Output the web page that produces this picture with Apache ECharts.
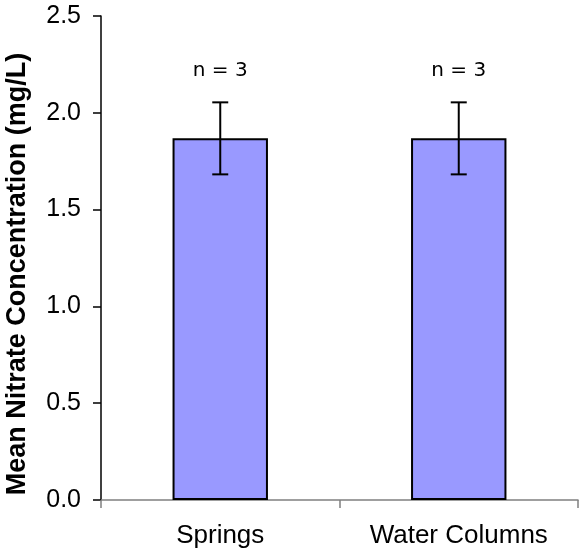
<!DOCTYPE html>
<html>
<head>
<meta charset="utf-8">
<script src="https://cdn.jsdelivr.net/npm/echarts@6/dist/echarts.min.js"></script>
<style>
  html, body { margin: 0; padding: 0; background: #fff; }
  #chart { width: 579px; height: 552px; }
</style>
</head>
<body>
<div id="chart"></div>
<script>
// Mean nitrate concentration by sample type, with standard error bars
const categories = ['Springs', 'Water Columns'];
const means = [1.868, 1.868];
const errors = [0.186, 0.186];
const sampleSizes = [3, 3];
const yTicks = { min: 0, max: 2.5, interval: 0.5 };
const yTitle = 'Mean Nitrate Concentration (mg/L)';

const chart = echarts.init(document.getElementById('chart'), null, { renderer: 'canvas' });

const errorData = categories.map((c, i) => [i, means[i] - errors[i], means[i] + errors[i], sampleSizes[i]]);

chart.setOption({
  animation: false,
  backgroundColor: '#ffffff',
  grid: { left: 101, right: 1, top: 16, bottom: 52, containLabel: false },
  graphic: [
    {
      type: 'text',
      x: 18, y: 274,
      rotation: Math.PI / 2,
      style: {
        text: yTitle,
        fill: '#000',
        font: 'bold 27px "Liberation Sans", Arial, sans-serif',
        align: 'center',
        verticalAlign: 'middle'
      }
    }
  ],
  xAxis: {
    type: 'category',
    data: categories,
    axisLine: { show: true, lineStyle: { color: '#808080', width: 1.5 } },
    axisTick: { show: true, alignWithLabel: false, length: 8, lineStyle: { color: '#808080', width: 1.5 } },
    axisLabel: { color: '#000', fontFamily: 'Liberation Sans, Arial, sans-serif', fontSize: 26, margin: 23 },
    splitLine: { show: false }
  },
  yAxis: {
    type: 'value',
    min: yTicks.min,
    max: yTicks.max,
    interval: yTicks.interval,
    axisLine: { show: true, lineStyle: { color: '#000', width: 1.5 } },
    axisTick: { show: true, length: 8, lineStyle: { color: '#000', width: 1.5 } },
    axisLabel: {
      color: '#000', fontFamily: 'Liberation Sans, Arial, sans-serif', fontSize: 25, margin: 20,
      formatter: v => v.toFixed(1)
    },
    splitLine: { show: false }
  },
  series: [
    {
      type: 'bar',
      data: means,
      barWidth: '40%',
      itemStyle: { color: '#9999ff', borderColor: '#000', borderWidth: 2 },
      z: 2
    },
    {
      type: 'custom',
      data: errorData,
      z: 5,
      renderItem: function (params, api) {
        const x = api.value(0);
        const lo = api.coord([x, api.value(1)]);
        const hi = api.coord([x, api.value(2)]);
        const cap = 8;
        const style = { stroke: '#000', lineWidth: 2 };
        return {
          type: 'group',
          children: [
            { type: 'line', shape: { x1: hi[0], y1: hi[1], x2: lo[0], y2: lo[1] }, style: style },
            { type: 'line', shape: { x1: hi[0] - cap, y1: hi[1], x2: hi[0] + cap, y2: hi[1] }, style: style },
            { type: 'line', shape: { x1: lo[0] - cap, y1: lo[1], x2: lo[0] + cap, y2: lo[1] }, style: style },
            {
              type: 'text',
              x: hi[0], y: hi[1] - 32,
              style: {
                text: 'n = ' + api.value(3),
                fill: '#000',
                font: '20px "DejaVu Sans", sans-serif',
                align: 'center',
                verticalAlign: 'middle'
              }
            }
          ]
        };
      }
    }
  ]
});
</script>
</body>
</html>
